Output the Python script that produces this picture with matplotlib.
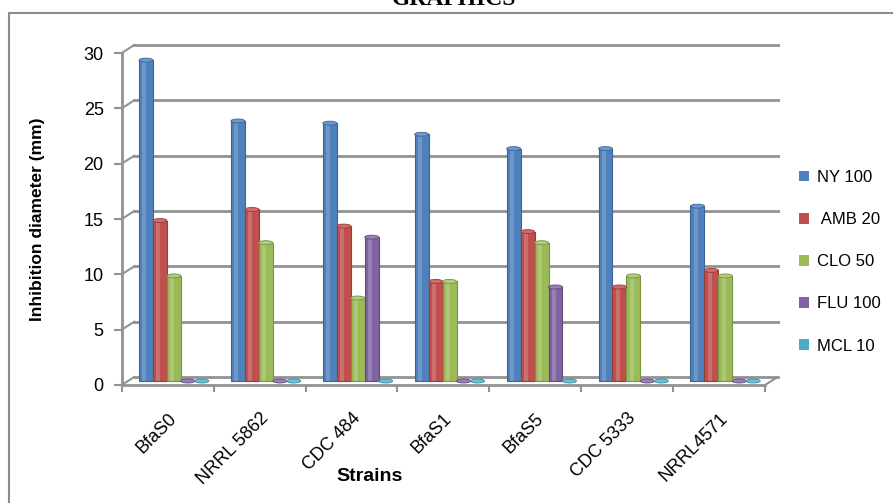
import matplotlib.pyplot as plt
from matplotlib.patches import Ellipse, Patch
from matplotlib.lines import Line2D

strains = ["BfaS0", "NRRL 5862", "CDC 484", "BfaS1", "BfaS5", "CDC 5333", "NRRL4571"]
ny100 = [29.0, 23.5, 23.3, 22.3, 21.0, 21.0, 15.8]
amb20 = [14.5, 15.5, 14.0, 9.0, 13.5, 8.5, 10.0]
clo50 = [9.5, 12.5, 7.5, 9.0, 12.5, 9.5, 9.5]
flu100 = [0.0, 0.0, 13.0, 0.0, 8.5, 0.0, 0.0]
mcl10 = [0.0, 0.0, 0.0, 0.0, 0.0, 0.0, 0.0]
series_names = ["NY 100", " AMB 20", "CLO 50", "FLU 100", "MCL 10"]
yticks = [0, 5, 10, 15, 20, 25, 30]

colors = ["#4F81BD", "#C0504D", "#9BBB59", "#8064A2", "#4BACC6"]
edges = ["#3A6497", "#963B39", "#789443", "#5F4A7B", "#328BA3"]
caps = ["#6A98CF", "#D06B68", "#B1CC7A", "#9A80BA", "#6CC0D6"]
grid_col = "#929292"
font = "Liberation Sans"

fig = plt.figure(figsize=(8.93, 5.03), dpi=100)
ax = fig.add_axes([0.1363, 0.2346, 0.7204, 0.66])
ax.set_xlim(-0.5, 6.5)
ax.set_ylim(0, 30)

# pseudo 3d depth offset (data units)
DX, DY = 0.136, 0.72
n = len(strains)

# back wall gridlines + left wall diagonals
for v in yticks:
    ax.plot([-0.5 + DX, n - 0.5 + DX], [v + DY, v + DY], color=grid_col, lw=2, clip_on=False, zorder=1)
    ax.plot([-0.5, -0.5 + DX], [v, v + DY], color=grid_col, lw=1.5, clip_on=False, zorder=1)
ax.plot([n - 0.5, n - 0.5 + DX], [0, DY], color=grid_col, lw=1.5, clip_on=False, zorder=1)

data = [ny100, amb20, clo50, flu100, mcl10]
w = 0.152
for j, vals in enumerate(data):
    for i, v in enumerate(vals):
        xc = i + (j - 2) * w + DX / 2
        base = DY / 2
        if v > 0:
            ax.bar(xc, v, width=w, bottom=base, color=colors[j], edgecolor=edges[j],
                   linewidth=0.8, zorder=3, clip_on=False)
            ax.bar(xc - w * 0.12, v, width=w * 0.3, bottom=base, color="white", alpha=0.18,
                   linewidth=0, zorder=3.5, clip_on=False)
        ax.add_patch(Ellipse((xc, base + v), w, 0.36, facecolor=caps[j], edgecolor=edges[j],
                             linewidth=0.6, zorder=4, clip_on=False))

for s in ["top", "right"]:
    ax.spines[s].set_visible(False)
for s in ["left", "bottom"]:
    ax.spines[s].set_color(grid_col)
    ax.spines[s].set_linewidth(2)

ax.set_yticks(yticks)
ax.set_yticklabels([str(v) for v in yticks], fontsize=13, fontfamily=font)
ax.tick_params(axis="y", length=6, width=1.5, color=grid_col, pad=7)

ax.set_xticks([i - 0.5 for i in range(n + 1)])
ax.set_xticklabels([])
ax.tick_params(axis="x", which="major", length=5, width=1.5, color=grid_col)
ax.set_xticks(range(n), minor=True)
ax.set_xticklabels(strains, minor=True, rotation=45, ha="right", va="top",
                   rotation_mode="anchor", fontsize=13, fontfamily=font)
ax.tick_params(axis="x", which="minor", length=0, pad=18)

ax.set_ylabel("Inhibition diameter (mm)", fontsize=12.5, fontweight="bold", fontfamily=font)
ax.yaxis.set_label_coords(-0.12, 0.5)
ax.set_xlabel("Strains", fontsize=14, fontweight="bold", fontfamily=font)
ax.xaxis.set_label_coords(0.385, -0.25)

handles = [Patch(facecolor=c, edgecolor="none") for c in colors]
fig.legend(handles, series_names, loc="upper left", bbox_to_anchor=(0.878, 0.692),
           frameon=False, prop={"family": font, "size": 12},
           handlelength=0.6, handleheight=0.6, handletextpad=0.5, labelspacing=1.63)

# outer frame of the figure picture
fig.add_artist(Line2D([8.5 / 893, 8.5 / 893], [0, 1 - 13 / 503], transform=fig.transFigure,
                      color="#8C8C8C", lw=1.5))
fig.add_artist(Line2D([8.5 / 893, 1], [1 - 13 / 503, 1 - 13 / 503], transform=fig.transFigure,
                      color="#8C8C8C", lw=1.5))
fig.text(0.508, 1 - 5 / 503, "GRAPHICS", ha="center", va="baseline", fontsize=17,
         fontweight="bold", fontfamily="Liberation Serif")

fig.savefig("out.png", dpi=100)
